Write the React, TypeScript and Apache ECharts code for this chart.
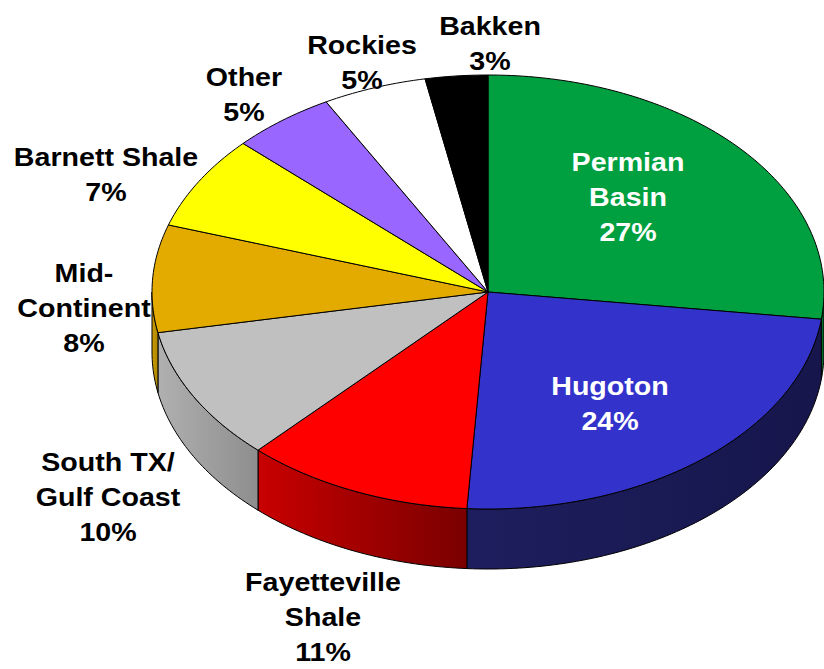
import React, { useEffect, useRef } from "react";
import * as echarts from "echarts";

const categories = [
  "Permian Basin",
  "Hugoton",
  "Fayetteville Shale",
  "South TX/ Gulf Coast",
  "Mid-Continent",
  "Barnett Shale",
  "Other",
  "Rockies",
  "Bakken",
];
const shares = [27, 24, 11, 10, 8, 7, 5, 5, 3];
const topColors = ["#00a040", "#3333cc", "#ff0000", "#c0c0c0", "#e3aa00", "#ffff00", "#9966ff", "#ffffff", "#000000"];
const sideLight = ["#007a30", "#1e1e5e", "#c80000", "#b0b0b0", "#c89a00", "#c8c800", "#7a50cc", "#cccccc", "#000000"];
const sideDark = ["#005a20", "#16164c", "#7a0000", "#8e8e8e", "#b08800", "#a0a000", "#603ca0", "#aaaaaa", "#000000"];

const labelTexts = [
  "Permian\nBasin\n27%",
  "Hugoton\n24%",
  "Fayetteville\nShale\n11%",
  "South TX/\nGulf Coast\n10%",
  "Mid-\nContinent\n8%",
  "Barnett Shale\n7%",
  "Other\n5%",
  "Rockies\n5%",
  "Bakken\n3%",
];
const labelColors = ["#ffffff", "#ffffff", "#000", "#000", "#000", "#000", "#000", "#000", "#000"];

export default function App() {
  const ref = useRef<HTMLDivElement>(null);
  useEffect(() => {
    document.body.style.margin = "0";
    const chart = echarts.init(ref.current!, null, { renderer: "svg" });
    const cx = 488, cy = 292, rx = 336, ry = 217, depth = 60;
    const total = shares.reduce((a, b) => a + b, 0);
    const cum: number[] = [0];
    shares.forEach((v, i) => cum.push(cum[i] + v));
    const pt = (t: number, dy = 0) => [cx + rx * Math.sin(t), cy - ry * Math.cos(t) + dy];
    const arc = (a: number, b: number, dy = 0) => {
      const n = Math.max(2, Math.ceil(Math.abs(b - a) / (Math.PI / 180)));
      const out: number[][] = [];
      for (let k = 0; k <= n; k++) out.push(pt(a + ((b - a) * k) / n, dy));
      return out;
    };
    const labelPos = [
      [628, 197], [610, 403], [323, 617], [108, 497], [84, 308], [106, 174], [244, 94], [362, 62], [490, 43],
    ];
    const lineGap = 35;
    const graphics: any[] = [];
    labelTexts.forEach((t, i) => {
      const lines = t.split("\n");
      lines.forEach((ln, k) => {
        graphics.push({
          type: "text",
          x: labelPos[i][0],
          y: labelPos[i][1] + (k - (lines.length - 1) / 2) * lineGap,
          scaleX: 1.1,
          z: 10,
          style: {
            text: ln,
            fill: labelColors[i],
            font: "bold 26px 'Liberation Sans', Arial, sans-serif",
            lineHeight: 26,
            align: "center",
            verticalAlign: "middle",
          },
        });
      });
    });
    chart.setOption({
      animation: false,
      series: [
        {
          type: "custom",
          coordinateSystem: "none",
          data: shares.map((v, i) => ({ name: categories[i], value: v })),
          renderItem: (params: any) => {
            const i = params.dataIndex;
            const s = (cum[i] / total) * Math.PI * 2;
            const e = (cum[i + 1] / total) * Math.PI * 2;
            const children: any[] = [];
            const a = Math.max(s, Math.PI / 2);
            const b = Math.min(e, (Math.PI * 3) / 2);
            if (b > a) {
              const pts = arc(a, b).concat(arc(b, a, depth));
              children.push({
                type: "polygon",
                shape: { points: pts },
                style: {
                  fill: new echarts.graphic.LinearGradient(0, 0, 1, 0, [
                    { offset: 0, color: sideLight[i] },
                    { offset: 1, color: sideDark[i] },
                  ]),
                  stroke: "#000",
                  lineWidth: 1,
                  lineJoin: "round",
                },
              });
            }
            children.push({
              type: "polygon",
              shape: { points: [[cx, cy]].concat(arc(s, e)) },
              style: { fill: topColors[i], stroke: "#000", lineWidth: 1, lineJoin: "round" },
            });
            return { type: "group", children };
          },
        },
      ],
      graphic: graphics,
    });
    return () => chart.dispose();
  }, []);
  return <div ref={ref} style={{ width: 824, height: 669 }} />;
}
